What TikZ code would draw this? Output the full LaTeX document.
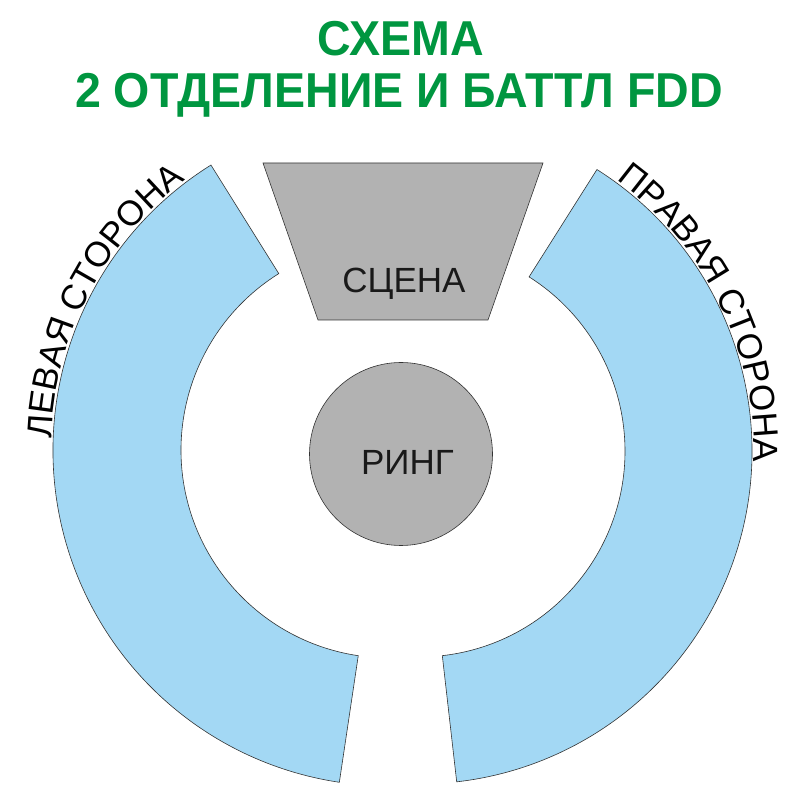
\documentclass[tikz,border=0pt]{standalone}
\usepackage{fontspec}
\setmainfont{Liberation Sans}
\newfontfamily\headfont[FakeStretch=0.95]{Liberation Sans}
\usetikzlibrary{decorations.text}
\definecolor{seatblue}{RGB}{163,216,244}
\definecolor{stagegray}{RGB}{178,178,178}
\definecolor{titlegreen}{RGB}{0,150,64}
\newcommand{\sidefont}{\fontsize{35}{35}\selectfont}
\tikzset{
	seats/.style={draw=black!80, fill=seatblue, line width=0.6pt},
	stage/.style={draw=black!80, fill=stagegray, line width=0.6pt},
	caption/.style={font=\sidefont, text=black!90, inner sep=0pt, anchor=base},
	heading/.style={font=\headfont\bfseries\fontsize{49}{49}\selectfont, text=titlegreen, inner sep=0pt, anchor=base}
}
\begin{document}
\begin{tikzpicture}[x=1pt, y=1pt]
	\useasboundingbox (0,0) rectangle (800,800);
	\coordinate (lc) at (389,350);
	\coordinate (rc) at (419,349);
	
	\node[heading] (title) at (401,744) {СХЕМА};
	\node[heading] (subtitle) at (399,692) {2 ОТДЕЛЕНИЕ И БАТТЛ FDD};
	
	% stands
	\draw[seats] ([shift={(122:336)}]lc) arc[start angle=122, end angle=261.5, radius=336]
		-- ([shift={(261.5:208)}]lc) arc[start angle=261.5, end angle=122, radius=208] -- cycle;
	\draw[seats] ([shift={(57.7:333)}]rc) arc[start angle=57.7, end angle=-83.5, radius=333]
		-- ([shift={(-83.5:206)}]rc) arc[start angle=-83.5, end angle=57.7, radius=206] -- cycle;
	
	\path[decorate, decoration={text along path, text={|\sidefont|ЛЕВАЯ СТОРОНА}, text align=left}]
		([shift={(178:338)}]lc) arc[start angle=178, end angle=125, radius=338];
	\path[decorate, decoration={text along path, text={|\sidefont|ПРАВАЯ СТОРОНА}, text align=left}]
		([shift={(54:335)}]rc) arc[start angle=54, end angle=-6, radius=335];
	
	% stage and ring
	\draw[stage] (263,637) -- (543,637) -- (488,480) -- (318,480) -- cycle;
	\node[caption] (scene) at (404,507) {СЦЕНА};
	
	\draw[stage] (401,346) circle[radius=91.5];
	\node[caption] (ring) at (407.5,325) {РИНГ};
\end{tikzpicture}
\end{document}
